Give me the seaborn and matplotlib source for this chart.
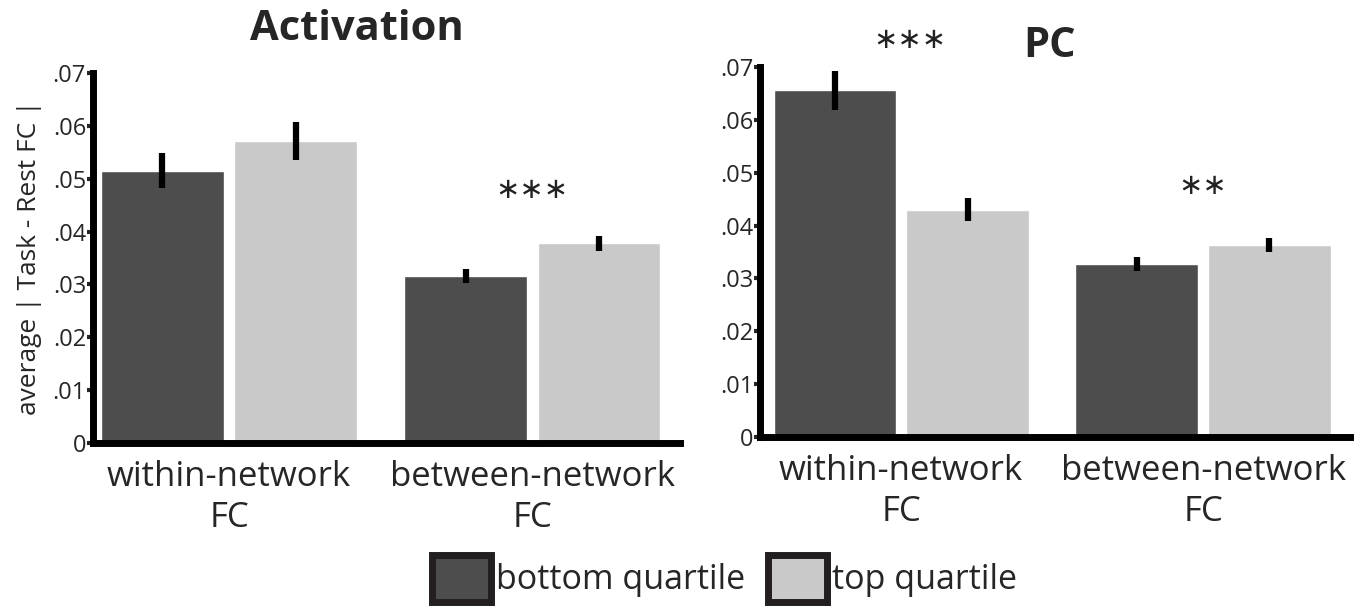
import numpy as np
import pandas as pd
import seaborn as sns
import matplotlib.pyplot as plt
from matplotlib.patches import Patch

sns.set_style("white")
plt.rcParams["font.family"] = ["Open Sans", "DejaVu Sans"]

# values
groups = ["within-network\nFC", "between-network\nFC"]
quartiles = ["bottom quartile", "top quartile"]

act_mean = [0.0515, 0.0571, 0.0316, 0.0378]   # within bottom, within top, between bottom, between top
act_err = [0.0033, 0.0036, 0.0014, 0.0014]
pc_mean = [0.0656, 0.0430, 0.0327, 0.0363]
pc_err = [0.0037, 0.0022, 0.0013, 0.0013]

colors = ["#4d4d4d", "#c9c9c9"]


def make_df(means, errs):
    return pd.DataFrame({
        "group": [groups[0], groups[0], groups[1], groups[1]],
        "quartile": [quartiles[0], quartiles[1], quartiles[0], quartiles[1]],
        "value": means,
        "err": errs,
    })


def panel(ax, df, stars, xlim):
    sns.barplot(data=df, x="group", y="value", hue="quartile", hue_order=quartiles,
                palette=colors, errorbar=None, width=0.88, gap=0.08, saturation=1,
                legend=False, ax=ax)
    # patches come out hue by hue: bottom (within, between), top (within, between)
    order = [0, 2, 1, 3]
    for p, i in zip(ax.patches, order):
        cx = p.get_x() + p.get_width() / 2
        ax.errorbar(cx, df["value"][i], yerr=df["err"][i], color="black", lw=4.5,
                    capsize=0, zorder=5)
    ax.set_ylim(0, 0.07)
    ax.set_xlim(*xlim)
    ax.set_yticks(np.arange(0, 0.071, 0.01))
    ax.set_yticks(np.arange(0, 0.0701, 0.002), minor=True)
    ax.set_yticklabels(["0"] + [f".{i:02d}" for i in range(1, 8)], fontsize=17)
    ax.tick_params(axis="y", which="major", direction="out", length=4, width=3, pad=1, left=True)
    ax.tick_params(axis="y", which="minor", direction="in", length=1.6, width=1.2,
                   color="white", left=True)
    ax.set_xticks([0, 1])
    ax.set_xticklabels(groups, fontsize=25, linespacing=1.3)
    ax.tick_params(axis="x", length=0, pad=12)
    ax.set_xlabel("")
    for s in ["top", "right"]:
        ax.spines[s].set_visible(False)
    for s in ["left", "bottom"]:
        ax.spines[s].set_linewidth(5)
        ax.spines[s].set_color("black")
    for xpos, ypos, txt in stars:
        ax.text(xpos, ypos, txt, ha="center", va="center", fontsize=21, color="#222222",
                family="DejaVu Sans")


fig = plt.figure(figsize=(13.72, 6.14), dpi=100)
ax1 = fig.add_axes([0.0678, 0.2785, 0.428, 0.6026])
ax2 = fig.add_axes([0.554, 0.2883, 0.430, 0.6026])

panel(ax1, make_df(act_mean, act_err), [(1.0, 0.0478, "∗∗∗")], (-0.449, 1.488))
ax1.set_ylabel("average | Task - Rest FC |", fontsize=19, labelpad=8)
fig.text(0.26, 0.952, "Activation", ha="center", va="center", fontsize=30, fontweight="bold")

panel(ax2, make_df(pc_mean, pc_err), [(0.03, 0.0752, "∗∗∗"), (1.0, 0.0475, "∗∗")], (-0.467, 1.487))
ax2.set_ylabel("")
fig.text(0.765, 0.925, "PC", ha="center", va="center", fontsize=30, fontweight="bold")

handles = [Patch(facecolor=c, edgecolor="#231f20", linewidth=5) for c in colors]
fig.legend(handles, quartiles, loc="center", bbox_to_anchor=(0.528, 0.058), ncol=2,
           frameon=False, fontsize=24.5, handlelength=1.75, handleheight=1.75,
           handletextpad=0.15, columnspacing=0.65)

fig.savefig("out.png", dpi=100)
